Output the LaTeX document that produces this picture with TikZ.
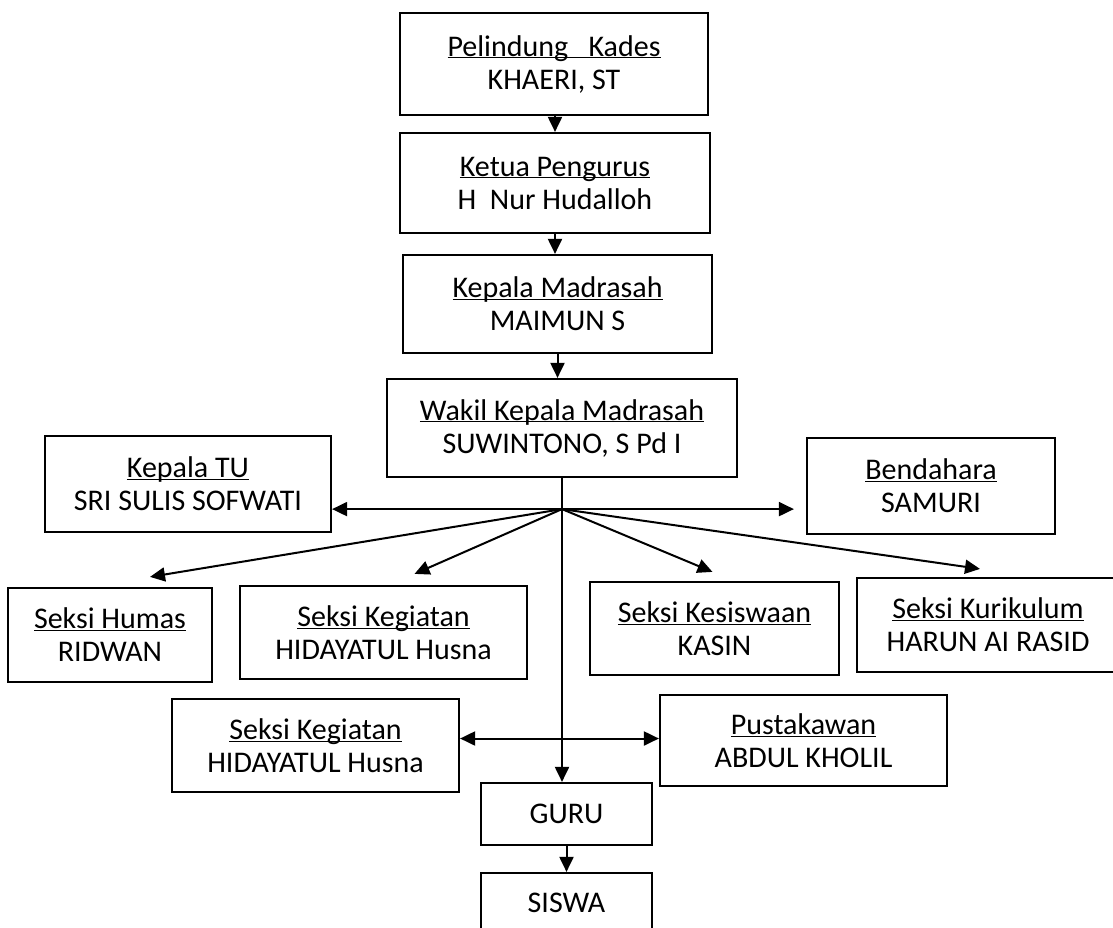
\documentclass[tikz,border=0pt]{standalone}
\usepackage{fontspec}
\setmainfont{Carlito}
\usetikzlibrary{arrows.meta,calc}
\newcommand{\jab}[1]{\underline{\setbox0\hbox{#1}\dp0=0pt\box0}}

\begin{document}
\begin{tikzpicture}[
  x=1pt, y=-1pt,
  font=\fontsize{30}{33}\selectfont,
  >={Triangle[length=15pt,width=14pt]},
  box/.style={draw=black, line width=2.2pt, align=center, inner sep=0pt},
  arr/.style={->, line width=2pt}
]
\useasboundingbox (0,0) rectangle (1113,927);
\clip (0,0) rectangle (1113,927);

%% ============ Top chain ============
\node[box, minimum width=308pt, minimum height=102pt] (pelindung) at (554,64)    {\jab{Pelindung\ \ \ Kades}\\KHAERI, ST};
\node[box, minimum width=310pt, minimum height=100pt] (ketua)     at (555,183)   {\jab{Ketua Pengurus}\\H\ \ Nur Hudalloh};
\node[box, minimum width=309pt, minimum height=98pt]  (kepala)    at (557.5,304) {\jab{Kepala Madrasah}\\MAIMUN S};
\node[box, minimum width=350pt, minimum height=98pt]  (wakil)     at (562,428)   {\jab{Wakil Kepala Madrasah}\\SUWINTONO, S Pd I};

\draw[arr] (pelindung.south -| ketua.north) -- (ketua.north);
\draw[arr] (ketua.south) -- (ketua.south |- kepala.north);
\draw[arr] (kepala.south) -- (kepala.south |- wakil.north);

%% ============ Staff row ============
\node[box, minimum width=286pt, minimum height=96pt] (kepalatu)  at (188,484) {\jab{Kepala TU}\\SRI SULIS SOFWATI};
\node[box, minimum width=248pt, minimum height=96pt] (bendahara) at (931,486) {\jab{Bendahara}\\SAMURI};

%% ============ Seksi row ============
\node[box, minimum width=204pt, minimum height=94pt] (humas)     at (110,635)   {\jab{Seksi Humas}\\RIDWAN};
\node[box, minimum width=287pt, minimum height=93pt] (kegiatan)  at (383.5,632.5) {\jab{Seksi Kegiatan}\\HIDAYATUL Husna};
\node[box, minimum width=249pt, minimum height=93pt] (kesiswaan) at (714.5,628.5) {\jab{Seksi Kesiswaan}\\KASIN};
\node[box, minimum width=262pt, minimum height=94pt] (kurikulum) at (988,625)   {\jab{Seksi Kurikulum}\\HARUN AI RASID};

%% hub below Wakil where all branches start
\coordinate (hub) at ($(wakil.south)+(0,31)$);

\draw[arr] (hub) -- (hub -| kepalatu.east);
\draw[arr] (hub) -- ($(hub -| bendahara.west)+(-12,0)$);
\draw[arr] (hub) -- ($(humas.north)+(40,-10)$);
\draw[arr] (hub) -- ($(kegiatan.north)+(31,-11)$);
\draw[arr] (hub) -- ($(kesiswaan.north)+(-2,-9)$);
\draw[arr] (hub) -- ($(kurikulum.north)+(-8,-8)$);

%% ============ Bottom part ============
\node[box, minimum width=287pt, minimum height=93pt] (kegiatan2)  at (315.5,745.5) {\jab{Seksi Kegiatan}\\HIDAYATUL Husna};
\node[box, minimum width=287pt, minimum height=91pt] (pustakawan) at (803.5,740.5) {\jab{Pustakawan}\\ABDUL KHOLIL};
\node[box, minimum width=171pt, minimum height=62pt] (guru)       at (566.5,814)   {GURU};
\node[box, minimum width=171pt, minimum height=60pt] (siswa)      at (566.5,903)   {SISWA};

%% main line runs straight down to GURU, crossing the side arrow
\draw[arr] (wakil.south) -- (wakil.south |- guru.north);
\draw[arr, <->] ($(kegiatan2.east)+(0,-7)$) -- ($(kegiatan2.east -| pustakawan.west)+(0,-7)$);
\draw[arr] (guru) -- (siswa);

\end{tikzpicture}
\end{document}
